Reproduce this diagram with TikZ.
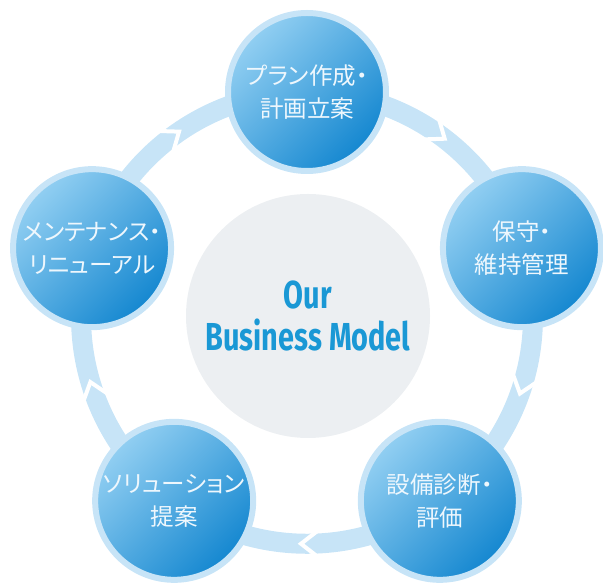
\documentclass[tikz,border=0pt]{standalone}
\usepackage{fontspec}
\newfontfamily\jpfont{Noto Sans CJK JP}[RawFeature=+palt]
\newfontfamily\titlefont{Fira Sans}[FakeStretch=0.74]
\usetikzlibrary{calc, backgrounds, decorations.markings}
\definecolor{ringblue}{HTML}{C7E4F7}
\definecolor{ballhi}{HTML}{92CFF2}
\definecolor{balllo}{HTML}{1487D0}
\definecolor{coregray}{HTML}{ECEFF2}
\definecolor{titleblue}{HTML}{1A98D5}
\definecolor{labelwhite}{HTML}{EEF7FD}
\tikzset{
every picture/.style={x=1pt, y=1pt},
stagebox/.style={circle, minimum size=158pt, inner sep=0pt, draw=ringblue, line width=6pt,
  top color=ballhi, bottom color=balllo, shading angle=45,
  text=labelwhite, align=center, font=\jpfont\fontsize{23.5}{33}\selectfont},
corebox/.style={circle, minimum size=244pt, inner sep=0pt, fill=coregray,
  text=titleblue, align=center, font=\titlefont\bfseries\fontsize{39}{42}\selectfont},
band/.style={draw=ringblue, line width=20pt, bend left=36, looseness=0.94,
  decoration={markings, mark=at position 0.5 with {\draw[white, line width=4pt] (-12,-14) -- (6,0) -- (-12,14);}},
  postaction={decorate}}
}

\begin{document}
\begin{tikzpicture}
    \useasboundingbox (0,0) rectangle (603,583);
    \coordinate (c) at (307,265);
    \node[corebox] (core) at (308,267) {Our\\Business Model};
    \foreach \i/\txt in {1/{プラン作成・\\計画立案}, 2/{保守・\\維持管理}, 3/{設備診断・\\評価}, 4/{ソリューション\\提案}, 5/{メンテナンス・\\リニューアル}} {
      \pgfmathsetmacro{\ang}{90 - 72*(\i - 1)}
      \node[stagebox] (s\i) at ($(c)+(\ang:226)$) {\txt};
    }
    \begin{scope}[on background layer]
      \foreach \a/\b in {1/2, 2/3, 3/4, 4/5, 5/1}
        \draw[band] (s\a.center) to (s\b.center);
    \end{scope}
  \end{tikzpicture}
\end{document}
